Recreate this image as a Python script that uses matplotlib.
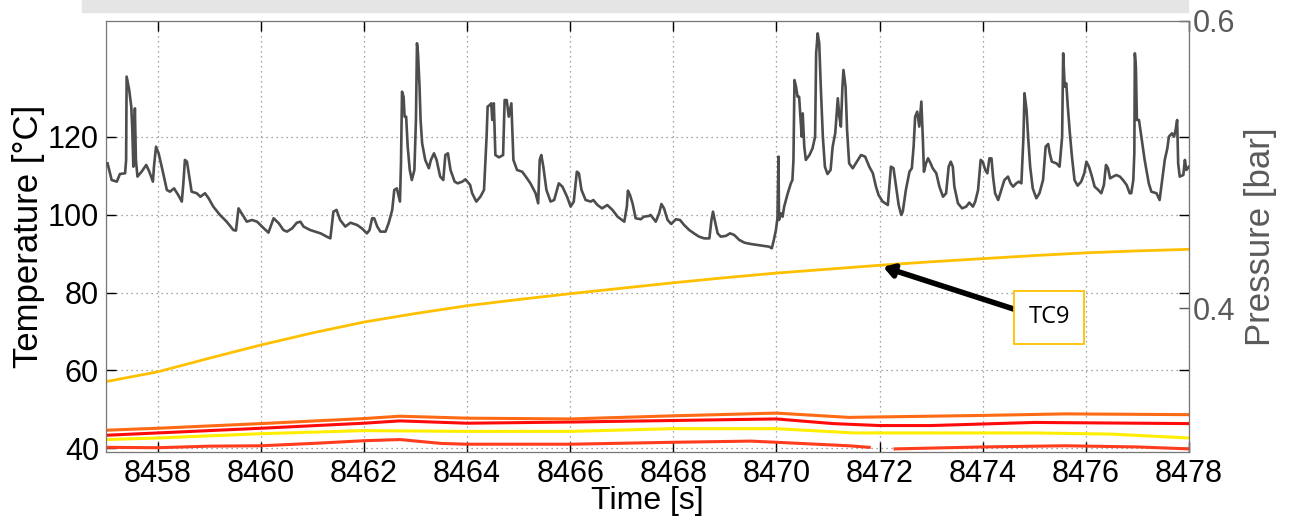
import numpy as np
import matplotlib
matplotlib.use("Agg")
import matplotlib.pyplot as plt
from matplotlib.patches import Rectangle
from matplotlib import font_manager

# pressure trace (grey, right axis)
press_t = [
    8457.03, 8457.11, 8457.21, 8457.27, 8457.37, 8457.39, 8457.40, 8457.45, 8457.49, 8457.51,
    8457.53, 8457.56, 8457.58, 8457.61, 8457.69, 8457.78, 8457.84, 8457.91, 8457.93, 8457.97,
    8458.02, 8458.08, 8458.18, 8458.24, 8458.32, 8458.40, 8458.47, 8458.50, 8458.53, 8458.57,
    8458.60, 8458.66, 8458.76, 8458.83, 8458.92, 8458.99, 8459.08, 8459.21, 8459.34, 8459.47,
    8459.52, 8459.57, 8459.63, 8459.73, 8459.83, 8459.93, 8460.06, 8460.15, 8460.25, 8460.35,
    8460.44, 8460.51, 8460.61, 8460.70, 8460.77, 8460.83, 8460.96, 8461.16, 8461.28, 8461.35,
    8461.41, 8461.47, 8461.54, 8461.64, 8461.74, 8461.87, 8461.96, 8462.06, 8462.11, 8462.16,
    8462.20, 8462.26, 8462.32, 8462.42, 8462.48, 8462.55, 8462.59, 8462.64, 8462.70, 8462.72,
    8462.74, 8462.77, 8462.79, 8462.82, 8462.85, 8462.89, 8462.93, 8462.98, 8463.01, 8463.03,
    8463.05, 8463.08, 8463.10, 8463.13, 8463.19, 8463.26, 8463.30, 8463.36, 8463.41, 8463.48,
    8463.54, 8463.58, 8463.63, 8463.68, 8463.76, 8463.82, 8463.91, 8463.97, 8464.06, 8464.10,
    8464.18, 8464.26, 8464.33, 8464.38, 8464.40, 8464.44, 8464.47, 8464.49, 8464.52, 8464.55,
    8464.62, 8464.70, 8464.73, 8464.77, 8464.81, 8464.86, 8464.90, 8464.97, 8465.07, 8465.14,
    8465.23, 8465.33, 8465.38, 8465.41, 8465.44, 8465.48, 8465.54, 8465.62, 8465.69, 8465.78,
    8465.85, 8465.94, 8466.01, 8466.07, 8466.13, 8466.17, 8466.22, 8466.30, 8466.40, 8466.45,
    8466.53, 8466.62, 8466.72, 8466.82, 8466.92, 8467.05, 8467.10, 8467.12, 8467.16, 8467.21,
    8467.27, 8467.37, 8467.43, 8467.53, 8467.56, 8467.66, 8467.725, 8467.77, 8467.82, 8467.89,
    8467.96, 8468.05, 8468.13, 8468.21, 8468.31, 8468.40, 8468.50, 8468.60, 8468.70, 8468.74,
    8468.77, 8468.81, 8468.86, 8468.92, 8469.02, 8469.10, 8469.18, 8469.28, 8469.38, 8469.50,
    8469.63, 8469.76, 8469.86, 8469.91, 8469.95, 8469.99, 8470.02, 8470.04, 8470.05, 8470.09,
    8470.12, 8470.15, 8470.22, 8470.28, 8470.31, 8470.33, 8470.35, 8470.38, 8470.41, 8470.44,
    8470.46, 8470.49, 8470.51, 8470.54, 8470.57, 8470.64, 8470.70, 8470.75, 8470.77, 8470.80,
    8470.83, 8470.86, 8470.90, 8470.94, 8470.99, 8471.05, 8471.09, 8471.14, 8471.19, 8471.22,
    8471.25, 8471.28, 8471.30, 8471.34, 8471.37, 8471.41, 8471.48, 8471.54, 8471.64, 8471.72,
    8471.80, 8471.87, 8471.93, 8471.98, 8472.06, 8472.16, 8472.22, 8472.27, 8472.32, 8472.37,
    8472.42, 8472.45, 8472.51, 8472.58, 8472.625, 8472.66, 8472.69, 8472.73, 8472.77, 8472.81,
    8472.84, 8472.86, 8472.90, 8472.94, 8472.99, 8473.03, 8473.10, 8473.16, 8473.23, 8473.29,
    8473.34, 8473.38, 8473.42, 8473.45, 8473.52, 8473.60, 8473.68, 8473.74, 8473.81, 8473.855,
    8473.91, 8473.96, 8474.00, 8474.05, 8474.09, 8474.13, 8474.17, 8474.20, 8474.24, 8474.30,
    8474.36, 8474.42, 8474.49, 8474.54, 8474.59, 8474.65, 8474.70, 8474.75, 8474.79, 8474.81,
    8474.85, 8474.88, 8474.92, 8474.97, 8475.04, 8475.10, 8475.17, 8475.22, 8475.27, 8475.30,
    8475.34, 8475.43, 8475.49, 8475.54, 8475.56, 8475.59, 8475.62, 8475.65, 8475.69, 8475.73,
    8475.78, 8475.84, 8475.91, 8475.97, 8476.01, 8476.06, 8476.11, 8476.17, 8476.24, 8476.30,
    8476.35, 8476.39, 8476.43, 8476.47, 8476.53, 8476.59, 8476.66, 8476.72, 8476.79, 8476.85,
    8476.88, 8476.92, 8476.94, 8476.95, 8476.97, 8476.99, 8477.03, 8477.08, 8477.14, 8477.22,
    8477.27, 8477.37, 8477.43, 8477.48, 8477.53, 8477.58, 8477.61, 8477.64, 8477.67, 8477.71,
    8477.74, 8477.77, 8477.79, 8477.82, 8477.89, 8477.92, 8477.95, 8478.0,
]
press_p = [
    0.5009, 0.4893, 0.4882, 0.4935, 0.4940, 0.5033, 0.5613, 0.5520, 0.5404, 0.5241,
    0.4986, 0.5392, 0.5033, 0.4917, 0.4951, 0.4998, 0.4951, 0.4882, 0.4986, 0.5125,
    0.5079, 0.4986, 0.4824, 0.4812, 0.4835, 0.4789, 0.4743, 0.4870, 0.5033, 0.5021,
    0.4951, 0.4812, 0.4801, 0.4777, 0.4801, 0.4766, 0.4708, 0.4650, 0.4603, 0.4545,
    0.4541, 0.4696, 0.4661, 0.4603, 0.4615, 0.4603, 0.4557, 0.4527, 0.4627, 0.4592,
    0.4545, 0.4534, 0.4557, 0.4596, 0.4603, 0.4569, 0.4545, 0.4522, 0.4499, 0.4487,
    0.4673, 0.4685, 0.4615, 0.4569, 0.4596, 0.4580, 0.4557, 0.4522, 0.4545, 0.4627,
    0.4627, 0.4569, 0.4534, 0.4534, 0.4592, 0.4685, 0.4824, 0.4835, 0.4743, 0.5009,
    0.5508, 0.5473, 0.5334, 0.5334, 0.5125, 0.4963, 0.4893, 0.4963, 0.5311, 0.5845,
    0.5775, 0.5543, 0.5311, 0.5149, 0.5033, 0.4975, 0.5033, 0.5079, 0.5033, 0.4917,
    0.4893, 0.5067, 0.5079, 0.4963, 0.4882, 0.4870, 0.4882, 0.4898, 0.4859, 0.4801,
    0.4743, 0.4777, 0.4824, 0.5195, 0.5404, 0.5415, 0.5427, 0.5311, 0.5427, 0.5067,
    0.5051, 0.5067, 0.5450, 0.5450, 0.5334, 0.5427, 0.5033, 0.4963, 0.4951, 0.4917,
    0.4870, 0.4801, 0.4731, 0.5033, 0.5067, 0.4986, 0.4824, 0.4743, 0.4754, 0.4870,
    0.4847, 0.4777, 0.4708, 0.4743, 0.4951, 0.4940, 0.4824, 0.4754, 0.4743, 0.4754,
    0.4719, 0.4696, 0.4719, 0.4685, 0.4638, 0.4603, 0.4708, 0.4819, 0.4789, 0.4731,
    0.4627, 0.4620, 0.4638, 0.4643, 0.4650, 0.4603, 0.4661, 0.4726, 0.4696, 0.4615,
    0.4587, 0.4620, 0.4615, 0.4580, 0.4545, 0.4522, 0.4499, 0.4487, 0.4487, 0.4615,
    0.4673, 0.4603, 0.4522, 0.4499, 0.4504, 0.4522, 0.4511, 0.4476, 0.4457, 0.4448,
    0.4441, 0.4434, 0.4429, 0.4418, 0.4476, 0.4545, 0.4627, 0.5056, 0.4615, 0.4661,
    0.4638, 0.4708, 0.4801, 0.4870, 0.4893, 0.5033, 0.5589, 0.5543, 0.5473, 0.5473,
    0.5357, 0.5195, 0.5357, 0.5125, 0.5033, 0.5067, 0.5114, 0.5195, 0.5775, 0.5914,
    0.5845, 0.5543, 0.5195, 0.4986, 0.4935, 0.4963, 0.5125, 0.5218, 0.5462, 0.5334,
    0.5265, 0.5543, 0.5659, 0.5543, 0.5241, 0.5009, 0.4975, 0.5009, 0.5067, 0.5056,
    0.4986, 0.4940, 0.4847, 0.4789, 0.4743, 0.4719, 0.4986, 0.4975, 0.4847, 0.4719,
    0.4650, 0.4673, 0.4824, 0.4951, 0.4975, 0.5125, 0.5334, 0.5369, 0.5265, 0.5439,
    0.5172, 0.4951, 0.5009, 0.5044, 0.5009, 0.4975, 0.4940, 0.4847, 0.4777, 0.4801,
    0.4986, 0.5021, 0.4986, 0.4847, 0.4731, 0.4696, 0.4708, 0.4736, 0.4708, 0.4743,
    0.4824, 0.5033, 0.5021, 0.4963, 0.4940, 0.5044, 0.5044, 0.4917, 0.4801, 0.4754,
    0.4824, 0.4893, 0.4917, 0.4870, 0.4847, 0.4870, 0.4882, 0.4870, 0.5195, 0.5497,
    0.5381, 0.5195, 0.4986, 0.4835, 0.4766, 0.4801, 0.4893, 0.5125, 0.5144, 0.5079,
    0.5021, 0.5009, 0.4986, 0.5195, 0.5775, 0.5543, 0.5566, 0.5404, 0.5218, 0.5056,
    0.4893, 0.4854, 0.4882, 0.4940, 0.5021, 0.4986, 0.4928, 0.4847, 0.4824, 0.4801,
    0.4859, 0.4998, 0.4975, 0.4905, 0.4917, 0.4928, 0.4917, 0.4893, 0.4859, 0.4801,
    0.4801, 0.4893, 0.5079, 0.5775, 0.5682, 0.5311, 0.5311, 0.5184, 0.5033, 0.4870,
    0.4812, 0.4801, 0.4754, 0.4893, 0.5033, 0.5114, 0.5195, 0.5207, 0.5218, 0.5195,
    0.5241, 0.5311, 0.5009, 0.4917, 0.4928, 0.5033, 0.4963, 0.4986,
]

# TC9 (gold)
tc9_t = [8457, 8458, 8459, 8460, 8461, 8462, 8463, 8464, 8465, 8466, 8467,
         8468, 8469, 8470, 8471, 8472, 8473, 8474, 8475, 8476, 8477, 8478]
tc9_T = [57.1, 59.6, 63.1, 66.5, 69.6, 72.4, 74.6, 76.6, 78.2, 79.7, 81.1,
         82.5, 83.8, 85.0, 86.0, 87.0, 87.9, 88.7, 89.5, 90.2, 90.7, 91.1]

# other thermocouples near the bottom
orange_t = [8457, 8458, 8460, 8462, 8462.7, 8464, 8466, 8468, 8470, 8471.4, 8474, 8475.6, 8478]
orange_T = [44.6, 45.1, 46.3, 47.6, 48.2, 47.7, 47.5, 48.3, 49.0, 47.9, 48.4, 48.8, 48.6]

red_t = [8457, 8458, 8460, 8462, 8462.7, 8464, 8466, 8468, 8470, 8471.1, 8472, 8473, 8475, 8478]
red_T = [43.3, 43.9, 45.1, 46.4, 47.0, 46.4, 46.7, 47.1, 47.5, 46.3, 45.8, 45.8, 46.6, 46.3]

yellow_t = [8457, 8458, 8460, 8462, 8464, 8466, 8468, 8470, 8471.5, 8475, 8476.5, 8478]
yellow_T = [42.2, 42.6, 43.7, 44.5, 44.3, 44.3, 45.0, 45.0, 43.9, 43.9, 43.6, 42.6]

low_t = [8457, 8458, 8459, 8460, 8461, 8462, 8462.7, 8463.5, 8464, 8466, 8468, 8469.5,
         8470, 8471.4, 8471.8, 8472.0, 8472.3, 8474, 8475.6, 8477, 8478]
low_T = [40.2, 40.1, 40.5, 40.6, 41.2, 41.9, 42.2, 41.2, 41.0, 41.0, 41.5, 41.8,
         41.5, 40.6, 40.2, np.nan, 39.8, 40.3, 40.6, 40.3, 39.8]

x_ticks = list(range(8458, 8479, 2))
y_ticks = [40, 60, 80, 100, 120]

# narrow face for the horizontal text if it is installed
names = {f.name for f in font_manager.fontManager.ttflist}
narrow = 'Liberation Sans Narrow' if 'Liberation Sans Narrow' in names else 'Liberation Sans'
print('narrow font:', narrow)

plt.rcParams['font.family'] = ['Liberation Sans', 'DejaVu Sans']

fig = plt.figure(figsize=(12.89, 5.29), dpi=100)
ax = fig.add_axes([106 / 1289, 1 - 452 / 529, (1189 - 106) / 1289, (452 - 21) / 529])
ax2 = ax.twinx()

# cropped title band at the top
fig.patches.append(Rectangle((82 / 1289, 1 - 12 / 529), (1188 - 82) / 1289, 12 / 529,
                             transform=fig.transFigure, color='#e5e5e5', zorder=0))

ax2.plot(press_t, press_p, color='#4d4d4d', lw=1.9, zorder=3)

ax.plot(low_t, low_T, color='#ff3c1e', lw=2.2)
ax.plot(yellow_t, yellow_T, color='#ffee00', lw=2.2)
ax.plot(red_t, red_T, color='#ff0a0a', lw=2.2)
ax.plot(orange_t, orange_T, color='#ff6a14', lw=2.2)
ax.plot(tc9_t, tc9_T, color='#ffc000', lw=2.0)

ax.set_xlim(8457, 8478)
ax.set_ylim(39.0, 149.8)
ax2.set_ylim(0.3, 0.6)
ax.set_xticks(x_ticks)
ax.set_yticks(y_ticks)
ax2.set_yticks([0.4, 0.6])
ax2.set_yticklabels(['0.4', '0.6'])

ax.grid(True, linestyle=(0, (1, 3)), color='#888888', lw=0.9)
ax.tick_params(direction='in', length=7, labelsize=22, top=True, right=True, width=1.0, pad=5)
ax2.tick_params(direction='in', length=7, labelsize=22, colors='#5a5a5a', width=1.0, pad=3)
for lab in ax.get_xticklabels() + ax.get_yticklabels() + ax2.get_yticklabels():
    lab.set_family([narrow, 'DejaVu Sans'])

ax.set_xlabel('Time [s]', fontsize=23, labelpad=-2, family=[narrow, 'DejaVu Sans'])
ax.set_ylabel('Temperature [°C]', fontsize=25, labelpad=2)
ax2.set_ylabel('Pressure [bar]', fontsize=25, color='#5a5a5a', labelpad=6)

for s in ['left', 'bottom', 'top']:
    ax.spines[s].set_color('#333333')
for s in ['left', 'bottom', 'top', 'right']:
    ax2.spines[s].set_color('#777777')

ax.annotate('TC9', xy=(8472.07, 86.6), xytext=(8475.29, 73.6),
            fontsize=17, ha='center', va='center', family=['Open Sans', 'DejaVu Sans'],
            bbox=dict(boxstyle='square,pad=0.6', fc='white', ec='#ffc000', lw=1.3),
            arrowprops=dict(arrowstyle='-|>,head_length=0.35,head_width=0.22', color='black',
                            lw=4.0, shrinkA=0, shrinkB=0, relpos=(0, 0.65)),
            zorder=5)

fig.savefig('out.png', dpi=100)
